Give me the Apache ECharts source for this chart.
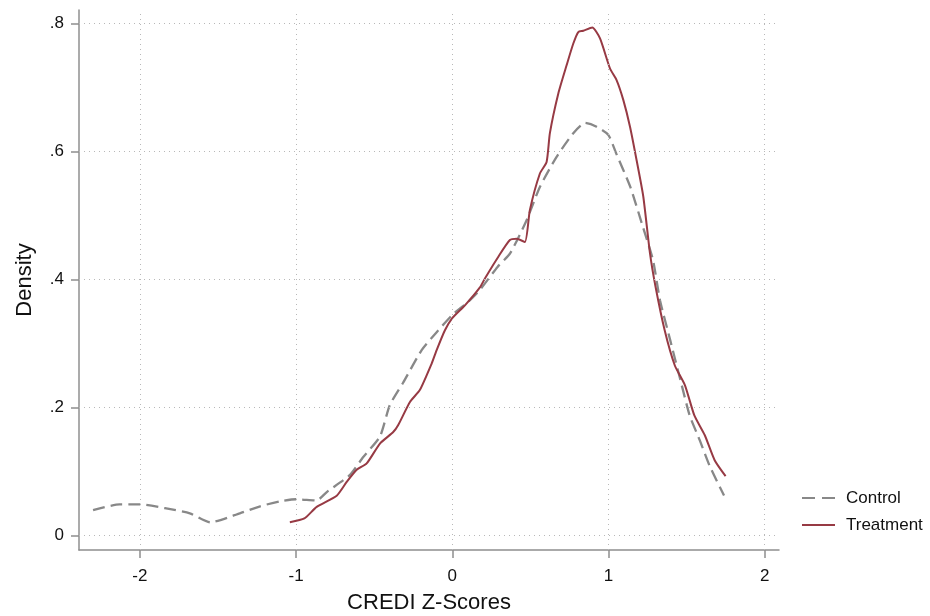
<!DOCTYPE html>
<html>
<head>
<meta charset="utf-8">
<script src="https://cdn.jsdelivr.net/npm/echarts@6/dist/echarts.min.js"></script>
<style>
html,body{margin:0;padding:0;background:#fff;}
#chart{width:930px;height:616px;}
</style>
</head>
<body>
<div id="chart"></div>
<script>
const xTicks = [-2, -1, 0, 1, 2];
const yTicks = [0, 0.2, 0.4, 0.6, 0.8];

const controlX = [-2.30, -2.13, -2.00, -1.84, -1.68, -1.55, -1.36, -1.23, -1.10, -1.00, -0.87, -0.80, -0.655, -0.57, -0.463, -0.40, -0.315, -0.196, -0.10, 0.0, 0.10, 0.177, 0.29, 0.37, 0.476, 0.561, 0.668, 0.775, 0.85, 0.924, 1.0, 1.05, 1.14, 1.22, 1.285, 1.33, 1.395, 1.46, 1.52, 1.585, 1.65, 1.74];
const controlY = [0.040, 0.049, 0.049, 0.043, 0.035, 0.021, 0.035, 0.046, 0.054, 0.057, 0.055, 0.069, 0.095, 0.123, 0.155, 0.204, 0.239, 0.290, 0.318, 0.345, 0.365, 0.384, 0.420, 0.441, 0.493, 0.545, 0.592, 0.629, 0.645, 0.639, 0.626, 0.597, 0.545, 0.483, 0.431, 0.368, 0.306, 0.244, 0.188, 0.149, 0.108, 0.063];

const treatX = [-1.04, -0.947, -0.868, -0.74, -0.676, -0.612, -0.548, -0.463, -0.378, -0.346, -0.271, -0.207, -0.132, -0.10, -0.047, 0.0, 0.081, 0.177, 0.209, 0.295, 0.369, 0.412, 0.465, 0.497, 0.561, 0.604, 0.625, 0.679, 0.732, 0.775, 0.807, 0.839, 0.896, 0.946, 1.01, 1.052, 1.095, 1.138, 1.18, 1.223, 1.266, 1.30, 1.36, 1.425, 1.49, 1.55, 1.617, 1.68, 1.75];
const treatY = [0.021, 0.027, 0.045, 0.0625, 0.084, 0.103, 0.113, 0.144, 0.162, 0.173, 0.209, 0.228, 0.269, 0.290, 0.321, 0.340, 0.360, 0.388, 0.402, 0.436, 0.462, 0.464, 0.459, 0.509, 0.566, 0.584, 0.629, 0.691, 0.735, 0.769, 0.787, 0.789, 0.794, 0.777, 0.730, 0.712, 0.681, 0.639, 0.587, 0.530, 0.441, 0.391, 0.321, 0.266, 0.235, 0.188, 0.157, 0.118, 0.093];

const FONT = '"Liberation Sans", Arial, "DejaVu Sans", sans-serif';
const axisColor = '#8f8f8f';
const gridColor = '#b8b8b8';
const controlColor = '#888888';
const treatColor = '#973a44';
const textColor = '#111111';

const chart = echarts.init(document.getElementById('chart'), null, {renderer: 'canvas'});

const gridLines = [];
xTicks.forEach(v => gridLines.push({xAxis: v}));
yTicks.forEach(v => gridLines.push({yAxis: v}));

chart.setOption({
  animation: false,
  backgroundColor: '#ffffff',
  textStyle: {fontFamily: FONT},
  grid: {left: 79, top: 10, width: 700, height: 540, containLabel: false, outerBoundsMode: 'none'},
  legend: {
    orient: 'vertical',
    left: 797,
    top: 484.5,
    itemWidth: 33,
    itemHeight: 2.2,
    itemGap: 10,
    data: [
      {name: 'Control', icon: 'path://M0,0H13V2H0Z M20,0H33V2H20Z'},
      {name: 'Treatment', icon: 'path://M0,0H33V2H0Z'}
    ],
    textStyle: {fontFamily: FONT, fontSize: 17, color: textColor, lineHeight: 17, padding: [0, 0, 0, 6]}
  },
  xAxis: {
    type: 'value',
    min: -2.39,
    max: 2.092,
    name: 'CREDI Z-Scores',
    nameLocation: 'middle',
    nameGap: 42,
    nameMoveOverlap: false,
    nameTextStyle: {fontFamily: FONT, fontSize: 22, color: textColor},
    axisLine: {show: true, onZero: false, lineStyle: {color: axisColor, width: 1.5}},
    axisTick: {show: true, inside: false, length: 8, customValues: xTicks, lineStyle: {color: axisColor, width: 1.5}},
    axisLabel: {show: true, customValues: xTicks, margin: 18, fontFamily: FONT, fontSize: 17, color: textColor, formatter: v => String(v)},
    splitLine: {show: false}
  },
  yAxis: {
    type: 'value',
    min: -0.0223,
    max: 0.8214,
    name: 'Density',
    nameLocation: 'middle',
    nameGap: 43,
    nameMoveOverlap: false,
    nameRotate: 90,
    nameTextStyle: {fontFamily: FONT, fontSize: 22, color: textColor},
    axisLine: {show: true, onZero: false, lineStyle: {color: axisColor, width: 1.5}},
    axisTick: {show: true, inside: false, length: 8, customValues: yTicks, lineStyle: {color: axisColor, width: 1.5}},
    axisLabel: {show: true, customValues: yTicks, margin: 15, fontFamily: FONT, fontSize: 17, color: textColor,
      formatter: v => (Math.abs(v) < 1e-9 ? '0' : String(Math.round(v * 10) / 10).replace(/^0\./, '.'))},
    splitLine: {show: false}
  },
  series: [
    {
      name: 'grid',
      type: 'line',
      data: [],
      z: 1,
      silent: true,
      markLine: {
        silent: true,
        symbol: ['none', 'none'],
        label: {show: false},
        lineStyle: {color: gridColor, width: 1, type: [1, 4]},
        emphasis: {disabled: true},
        data: gridLines
      }
    },
    {
      name: 'Control',
      type: 'line',
      z: 3,
      data: controlX.map((x, i) => [x, controlY[i]]),
      showSymbol: false,
      symbol: 'none',
      smooth: 0.2,
      lineStyle: {color: controlColor, width: 2.3, type: [12, 6]},
      itemStyle: {color: controlColor}
    },
    {
      name: 'Treatment',
      type: 'line',
      z: 4,
      data: treatX.map((x, i) => [x, treatY[i]]),
      showSymbol: false,
      symbol: 'none',
      smooth: 0.2,
      lineStyle: {color: treatColor, width: 2},
      itemStyle: {color: treatColor}
    }
  ]
});
</script>
</body>
</html>
